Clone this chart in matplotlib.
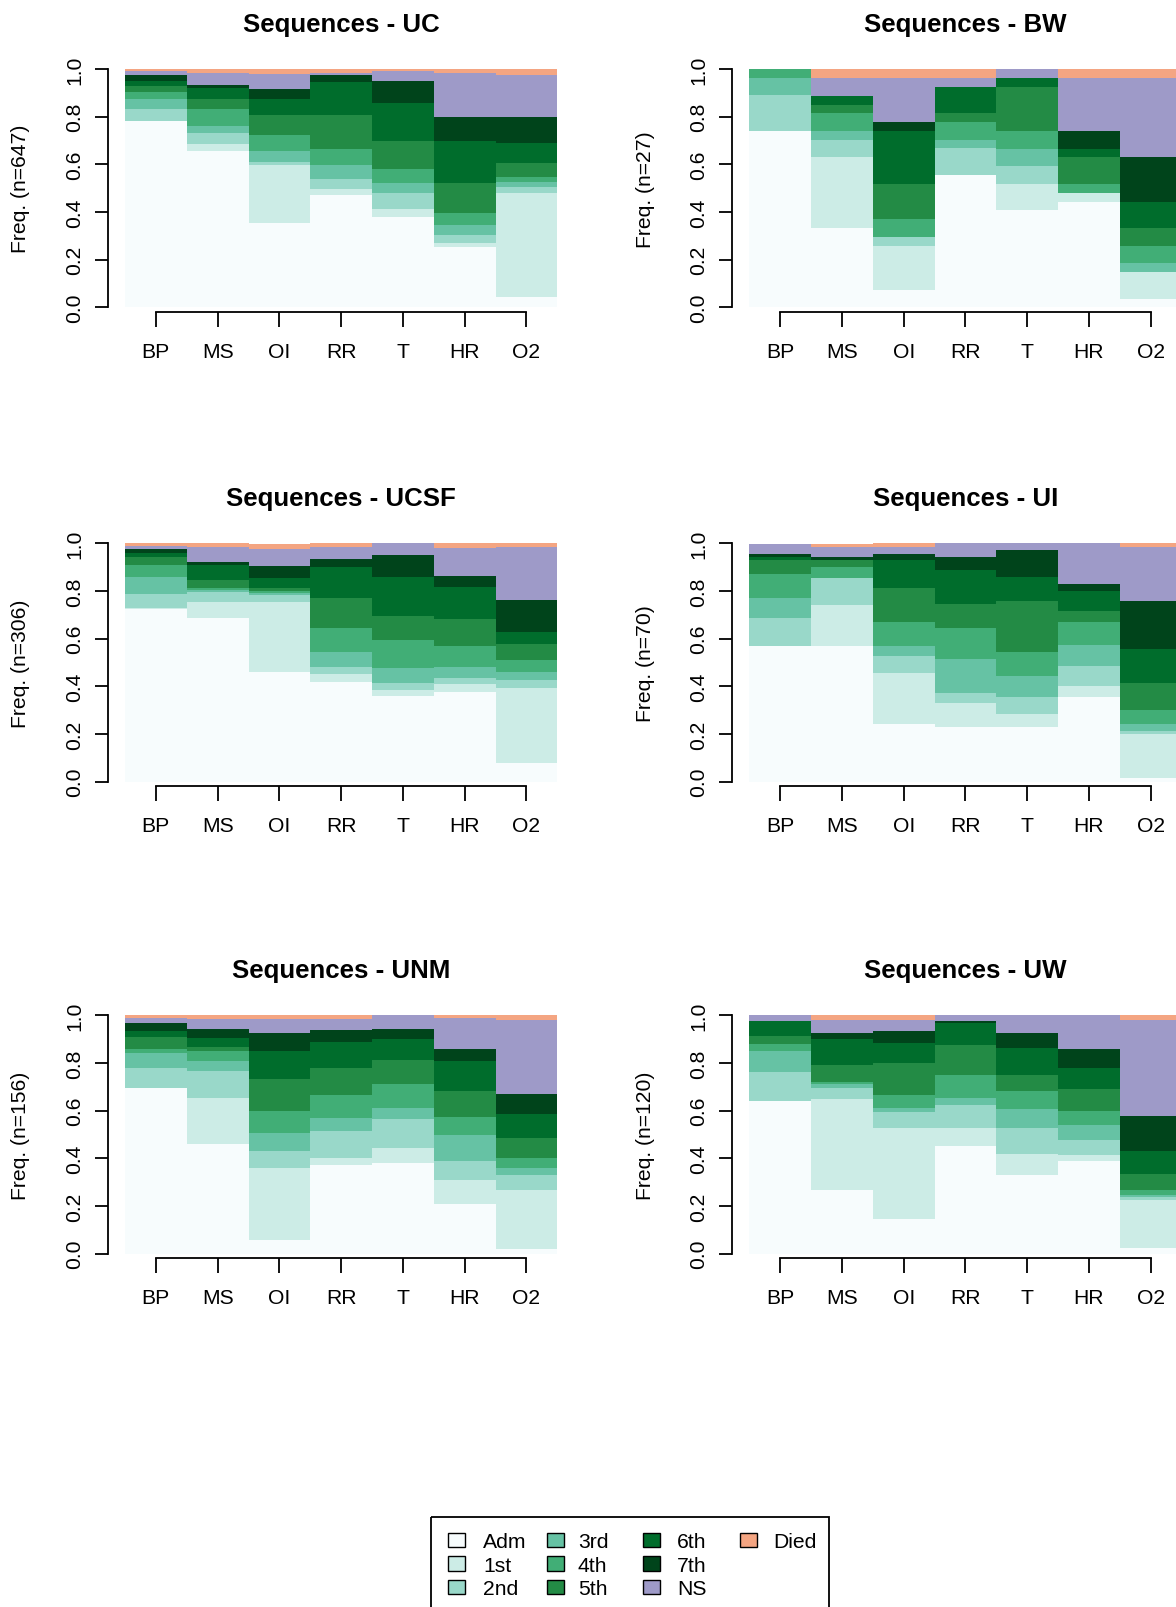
import matplotlib
matplotlib.use("Agg")
import matplotlib.pyplot as plt
from matplotlib.patches import Rectangle
import numpy as np

plt.rcParams['font.family'] = ['Liberation Sans', 'DejaVu Sans']

positions = ["BP", "MS", "OI", "RR", "T", "HR", "O2"]
states = ["Adm", "1st", "2nd", "3rd", "4th", "5th", "6th", "7th", "NS", "Died"]
colors = ["#F7FCFD", "#CCECE6", "#99D8C9", "#66C2A4", "#41AE76",
          "#238B45", "#006D2C", "#00441B", "#9E9AC8", "#F4A582"]

# state distribution: one row per position (BP..O2), one column per state (Adm..Died)
uc = [
    [0.783, 0.000, 0.049, 0.042, 0.031, 0.025, 0.021, 0.024, 0.015, 0.010],
    [0.657, 0.028, 0.046, 0.031, 0.070, 0.042, 0.045, 0.014, 0.050, 0.017],
    [0.354, 0.243, 0.011, 0.049, 0.066, 0.084, 0.067, 0.042, 0.063, 0.021],
    [0.471, 0.025, 0.042, 0.059, 0.067, 0.143, 0.137, 0.032, 0.007, 0.017],
    [0.378, 0.035, 0.067, 0.042, 0.059, 0.117, 0.159, 0.091, 0.042, 0.010],
    [0.252, 0.017, 0.035, 0.042, 0.050, 0.126, 0.176, 0.099, 0.186, 0.017],
    [0.042, 0.438, 0.024, 0.024, 0.018, 0.060, 0.084, 0.108, 0.178, 0.025],
]
bw = [
    [0.741, 0.000, 0.148, 0.074, 0.037, 0.000, 0.000, 0.000, 0.000, 0.000],
    [0.333, 0.296, 0.074, 0.037, 0.074, 0.037, 0.037, 0.000, 0.074, 0.037],
    [0.074, 0.185, 0.037, 0.000, 0.074, 0.148, 0.222, 0.037, 0.185, 0.037],
    [0.556, 0.000, 0.111, 0.037, 0.074, 0.037, 0.111, 0.000, 0.037, 0.037],
    [0.407, 0.111, 0.074, 0.074, 0.074, 0.185, 0.037, 0.000, 0.037, 0.000],
    [0.444, 0.037, 0.000, 0.000, 0.037, 0.111, 0.037, 0.074, 0.222, 0.037],
    [0.037, 0.111, 0.000, 0.037, 0.074, 0.074, 0.111, 0.185, 0.333, 0.037],
]
ucsf = [
    [0.723, 0.007, 0.059, 0.068, 0.052, 0.032, 0.017, 0.018, 0.014, 0.010],
    [0.687, 0.066, 0.042, 0.011, 0.007, 0.035, 0.059, 0.015, 0.061, 0.017],
    [0.462, 0.293, 0.027, 0.008, 0.010, 0.014, 0.042, 0.049, 0.070, 0.024],
    [0.420, 0.031, 0.032, 0.061, 0.101, 0.127, 0.127, 0.035, 0.049, 0.017],
    [0.359, 0.025, 0.032, 0.059, 0.120, 0.101, 0.162, 0.092, 0.050, 0.000],
    [0.375, 0.034, 0.025, 0.049, 0.085, 0.113, 0.134, 0.049, 0.116, 0.020],
    [0.079, 0.313, 0.035, 0.035, 0.049, 0.068, 0.049, 0.134, 0.221, 0.017],
]
ui = [
    [0.571, 0.000, 0.114, 0.086, 0.100, 0.057, 0.014, 0.014, 0.043, 0.000],
    [0.571, 0.171, 0.114, 0.000, 0.043, 0.029, 0.000, 0.014, 0.043, 0.014],
    [0.243, 0.214, 0.071, 0.043, 0.100, 0.143, 0.114, 0.029, 0.029, 0.014],
    [0.229, 0.100, 0.043, 0.143, 0.129, 0.100, 0.143, 0.057, 0.057, 0.000],
    [0.229, 0.057, 0.071, 0.086, 0.100, 0.214, 0.100, 0.114, 0.029, 0.000],
    [0.357, 0.043, 0.086, 0.086, 0.100, 0.043, 0.086, 0.029, 0.171, 0.000],
    [0.014, 0.186, 0.014, 0.029, 0.057, 0.114, 0.143, 0.200, 0.229, 0.014],
]
unm = [
    [0.697, 0.000, 0.084, 0.059, 0.018, 0.049, 0.027, 0.032, 0.024, 0.010],
    [0.462, 0.193, 0.110, 0.042, 0.043, 0.017, 0.039, 0.035, 0.042, 0.017],
    [0.059, 0.302, 0.069, 0.077, 0.091, 0.134, 0.119, 0.073, 0.059, 0.017],
    [0.371, 0.032, 0.110, 0.057, 0.094, 0.116, 0.110, 0.050, 0.043, 0.017],
    [0.380, 0.064, 0.119, 0.049, 0.101, 0.101, 0.085, 0.042, 0.059, 0.000],
    [0.210, 0.101, 0.077, 0.109, 0.077, 0.108, 0.126, 0.049, 0.133, 0.010],
    [0.018, 0.250, 0.060, 0.032, 0.042, 0.084, 0.101, 0.084, 0.311, 0.018],
]
uw = [
    [0.639, 0.000, 0.123, 0.087, 0.032, 0.032, 0.062, 0.000, 0.025, 0.000],
    [0.269, 0.379, 0.049, 0.013, 0.011, 0.070, 0.109, 0.024, 0.058, 0.018],
    [0.144, 0.385, 0.066, 0.017, 0.053, 0.133, 0.084, 0.052, 0.048, 0.018],
    [0.452, 0.077, 0.094, 0.032, 0.094, 0.126, 0.094, 0.006, 0.025, 0.000],
    [0.329, 0.091, 0.109, 0.076, 0.077, 0.067, 0.116, 0.059, 0.076, 0.000],
    [0.387, 0.025, 0.066, 0.060, 0.059, 0.092, 0.091, 0.077, 0.143, 0.000],
    [0.025, 0.201, 0.011, 0.011, 0.020, 0.067, 0.094, 0.148, 0.405, 0.018],
]

sites = ["UC", "BW", "UCSF", "UI", "UNM", "UW"]
n_seq = [647, 27, 306, 70, 156, 120]
site_data = [uc, bw, ucsf, ui, unm, uw]
yticks = [0.0, 0.2, 0.4, 0.6, 0.8, 1.0]

W, H = 1176, 1608
fig = plt.figure(figsize=(W / 100, H / 100), dpi=100)

# panel geometry in pixels
col_left = [107.7, 732.0]
row_top = [60.5, 534.8, 1006.8]
ax_w, ax_h = 466.9, 257.4
lw = 1.3
fs = 15.2

for k, site in enumerate(sites):
    r, c = divmod(k, 2)
    ax = fig.add_axes([col_left[c] / W, 1 - (row_top[r] + ax_h) / H, ax_w / W, ax_h / H])
    vals = np.array(site_data[k])
    x = np.arange(1, len(positions) + 1)
    bottom = np.zeros(len(positions))
    for j in range(len(states)):
        ax.bar(x, vals[:, j], width=1.0, bottom=bottom, color=colors[j],
               linewidth=0, antialiased=False)
        bottom += vals[:, j]

    ax.set_xlim(0.22, 7.78)
    ax.set_ylim(-0.04, 1.04)
    ax.spines['top'].set_visible(False)
    ax.spines['right'].set_visible(False)
    ax.spines['left'].set_bounds(0, 1)
    ax.spines['bottom'].set_position(('data', -0.02))
    ax.spines['bottom'].set_bounds(1, 7)
    for s in ['left', 'bottom']:
        ax.spines[s].set_linewidth(lw)

    ax.set_xticks(x)
    ax.set_xticklabels(positions, fontsize=fs)
    ax.set_yticks(yticks)
    ax.set_yticklabels(["%.1f" % v for v in yticks], fontsize=fs,
                       rotation=90, va='center')
    ax.tick_params(axis='x', length=10.5, width=lw, pad=11, direction='out')
    ax.tick_params(axis='y', length=9.4, width=lw, pad=7.5, direction='out')

    ax.set_title("Sequences - %s" % site, fontsize=18.6, fontweight='bold', pad=20.5)
    ax.text(-0.186, 0.5, "Freq. (n=%d)" % n_seq[k], transform=ax.transAxes,
            rotation=90, ha='center', va='center', fontsize=fs)

# legend drawn in pixel coordinates
lax = fig.add_axes([0, 0, 1, 1])
lax.set_xlim(0, W)
lax.set_ylim(H, 0)
lax.axis('off')
lax.add_patch(Rectangle((430.5, 1517.5), 398.5, 120, fill=False,
                        edgecolor='black', linewidth=lw, clip_on=True))
sq_x = [448, 547, 643, 740]
txt_x = [483, 578, 677, 773]
row_y = [1541, 1564.5, 1588]
for i, st in enumerate(states):
    cc, rr = divmod(i, 3)
    lax.add_patch(Rectangle((sq_x[cc], row_y[rr] - 7.5), 16.5, 14.5,
                            facecolor=colors[i], edgecolor='black', linewidth=1.0))
    lax.text(txt_x[cc], row_y[rr] + 7.3, st, fontsize=fs,
             ha='left', va='baseline')

fig.savefig("out.png", dpi=100)
